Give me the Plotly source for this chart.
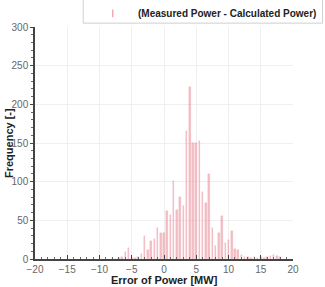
import plotly.graph_objects as go

bin_centers = [-8.0, -7.5, -7.0, -6.5, -6.0, -5.5, -5.0, -4.5, -4.0, -3.5, -3.0, -2.5,
               -2.0, -1.5, -1.0, -0.5, 0.0, 0.5, 1.0, 1.5, 2.0, 2.5, 3.0, 3.5, 4.0,
               4.5, 5.0, 5.5, 6.0, 6.5, 7.0, 7.5, 8.0, 8.5, 9.0, 9.5, 10.0, 10.5,
               11.0, 11.5, 12.0, 12.5, 13.0, 13.5, 14.0, 14.5, 15.0, 15.5, 16.0,
               16.5, 17.0, 17.5, 18.0]
frequency = [1, 0, 1, 3, 9, 14, 1, 1, 3, 6, 30, 11,
             23, 26, 40, 33, 33, 62, 57, 101, 64, 80, 69, 165, 223,
             150, 150, 152, 86, 72, 110, 40, 17, 34, 55, 21, 25, 36,
             13, 12, 5, 2, 2, 1, 2, 1, 2, 1, 3,
             4, 5, 4, 2]
x_ticks = [-20, -15, -10, -5, 0, 5, 10, 15, 20]
y_ticks = [0, 50, 100, 150, 200, 250, 300]
series_name = "(Measured Power - Calculated Power)"

fig = go.Figure()
fig.add_trace(go.Bar(
    x=bin_centers, y=frequency, width=0.24, name=series_name,
    marker=dict(color="rgba(236,150,160,0.6)",
                line=dict(color="rgba(230,140,150,0.5)", width=0.4)),
    showlegend=False,
))

axis_font = dict(family="Liberation Sans, Arial, sans-serif", size=10, color="#666")
fig.update_layout(
    width=325, height=287,
    margin=dict(l=31, r=32, t=27, b=20),
    paper_bgcolor="white", plot_bgcolor="white",
    bargap=0,
    xaxis=dict(range=[-20, 20], tickvals=x_ticks, ticks="inside", ticklen=4,
               tickcolor="#444", showline=True, linecolor="#444", linewidth=1.5,
               showgrid=True, gridcolor="#efefef", gridwidth=1, zeroline=False,
               tickfont=axis_font, ticklabelstandoff=0,
               minor=dict(dtick=1, ticks="inside", ticklen=2, tickcolor="#666", showgrid=False)),
    yaxis=dict(range=[0, 300], tickvals=y_ticks, ticks="outside", ticklen=3,
               tickcolor="#444", showline=True, linecolor="#444", linewidth=1.5,
               showgrid=True, gridcolor="#efefef", gridwidth=1, zeroline=False,
               tickfont=axis_font, ticklabelstandoff=0,
               minor=dict(dtick=10, ticks="outside", ticklen=2, tickcolor="#666", showgrid=False)),
    font=dict(family="Liberation Sans, Arial, sans-serif"),
)

# axis titles
fig.add_annotation(text="<b>Error of Power [MW]</b>", xref="paper", yref="paper",
                   x=0.5, y=0, yshift=-13, xanchor="center", yanchor="top",
                   showarrow=False, font=dict(size=11, color="#222"))
fig.add_annotation(text="<b>Frequency [-]</b>", xref="paper", yref="paper",
                   x=0, xshift=-26, y=0.5, xanchor="center", yanchor="middle",
                   textangle=-90, showarrow=False, font=dict(size=11, color="#222"))

# legend box
fig.add_shape(type="rect", xref="paper", yref="paper",
              x0=(80 - 31) / 262, x1=(323 - 31) / 262,
              y0=(267 - 23) / 240, y1=(267 + 5) / 240,
              line=dict(color="#cfcfcf", width=1), fillcolor="white", layer="above")
fig.add_shape(type="line", xref="paper", yref="paper",
              x0=(110 - 31) / 262, x1=(110 - 31) / 262,
              y0=(267 - 17) / 240, y1=(267 - 9) / 240,
              line=dict(color="rgba(226,128,138,0.8)", width=1.2), layer="above")
fig.add_annotation(text="<b>" + series_name + "</b>", xref="paper", yref="paper",
                   x=(134 - 31) / 262, y=(267 - 13) / 240, xanchor="left", yanchor="middle",
                   showarrow=False, font=dict(size=10, color="#222"))

fig.write_html("out.html")
